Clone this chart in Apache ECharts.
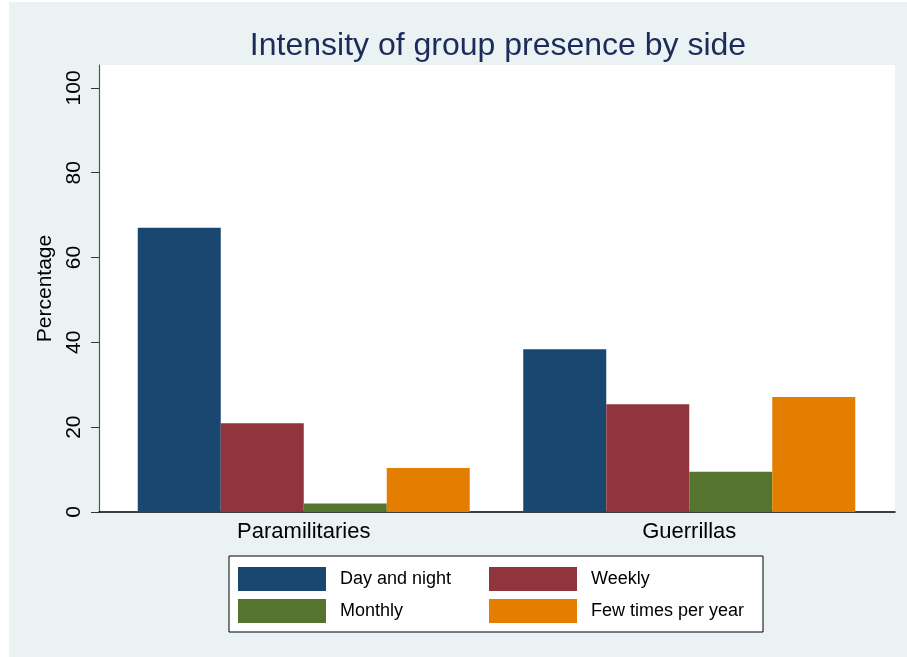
<!DOCTYPE html>
<html>
<head>
<meta charset="utf-8">
<script src="https://cdn.jsdelivr.net/npm/echarts@6/dist/echarts.min.js"></script>
<style>
  html, body { margin: 0; padding: 0; background: #fff; }
  #main {
    width: 898px; height: 655px;
    background: #eaf2f3;
    border-left: 9px solid #fff;
    border-top: 2px solid #fff;
  }
</style>
</head>
<body>
<div id="main"></div>
<script>
  // data
  var sides = ['Paramilitaries', 'Guerrillas'];
  var dayAndNight = [67.0, 38.4];
  var weekly = [20.9, 25.4];
  var monthly = [2.0, 9.5];
  var fewTimes = [10.4, 27.1];
  var yTicks = [0, 20, 40, 60, 80, 100];

  var font = "'Liberation Sans', Arial, sans-serif";
  var yMax = 105.4;

  var chart = echarts.init(document.getElementById('main'));

  function bar(name, data, color) {
    return {
      name: name,
      type: 'bar',
      xAxisIndex: 1,
      yAxisIndex: 1,
      data: data,
      barWidth: 83,
      barGap: '0%',
      itemStyle: {color: color},
      emphasis: {disabled: true}
    };
  }

  chart.setOption({
    animation: false,
    title: {
      text: 'Intensity of group presence by side',
      left: 484,
      top: 23,
      textAlign: 'center',
      textStyle: {fontFamily: font, fontSize: 32, fontWeight: 'normal', color: '#1c2b59'}
    },
    grid: [
      // frame with white plot area and axes
      {left: 90, top: 63, width: 796, height: 447, show: true, backgroundColor: '#fff', borderWidth: 0},
      // bars (groups sit a bit inside the frame)
      {left: 102, top: 63, width: 771, height: 447}
    ],
    xAxis: [
      {
        type: 'category', gridIndex: 0, data: sides,
        axisLine: {lineStyle: {color: '#000', width: 1.5}},
        axisTick: {show: false}, axisLabel: {show: false}, splitLine: {show: false}
      },
      {
        type: 'category', gridIndex: 1, data: sides,
        axisLine: {show: false}, axisTick: {show: false},
        axisLabel: {fontFamily: font, fontSize: 22, color: '#000', margin: 9}
      }
    ],
    yAxis: [
      {
        type: 'value', gridIndex: 0, min: 0, max: yMax,
        name: 'Percentage', nameLocation: 'middle', nameGap: 40,
        nameTextStyle: {fontFamily: font, fontSize: 21, color: '#000'},
        axisLine: {show: true, lineStyle: {color: '#555', width: 1.2}},
        axisTick: {show: true, length: 8, customValues: yTicks, lineStyle: {color: '#333'}},
        axisLabel: {rotate: 90, customValues: yTicks, fontFamily: font, fontSize: 21, color: '#000', margin: 14},
        splitLine: {show: false}
      },
      {
        type: 'value', gridIndex: 1, min: 0, max: yMax, show: false,
        splitLine: {show: false}
      }
    ],
    legend: [
      {
        orient: 'vertical', left: 224, top: 560,
        data: ['Day and night', 'Monthly'],
        itemWidth: 88, itemHeight: 24, itemGap: 8,
        icon: 'rect', selectedMode: false,
        textStyle: {fontFamily: font, fontSize: 18, color: '#000', padding: [0, 0, 0, 9]}
      },
      {
        orient: 'vertical', left: 475, top: 560,
        data: ['Weekly', 'Few times per year'],
        itemWidth: 88, itemHeight: 24, itemGap: 8,
        icon: 'rect', selectedMode: false,
        textStyle: {fontFamily: font, fontSize: 18, color: '#000', padding: [0, 0, 0, 9]}
      }
    ],
    graphic: [
      {
        type: 'rect', z: -1,
        shape: {x: 220, y: 554, width: 534, height: 76},
        style: {fill: '#fff', stroke: '#000', lineWidth: 1}
      }
    ],
    series: [
      bar('Day and night', dayAndNight, '#1a476f'),
      bar('Weekly', weekly, '#90353b'),
      bar('Monthly', monthly, '#55752f'),
      bar('Few times per year', fewTimes, '#e37e00')
    ]
  });
</script>
</body>
</html>
